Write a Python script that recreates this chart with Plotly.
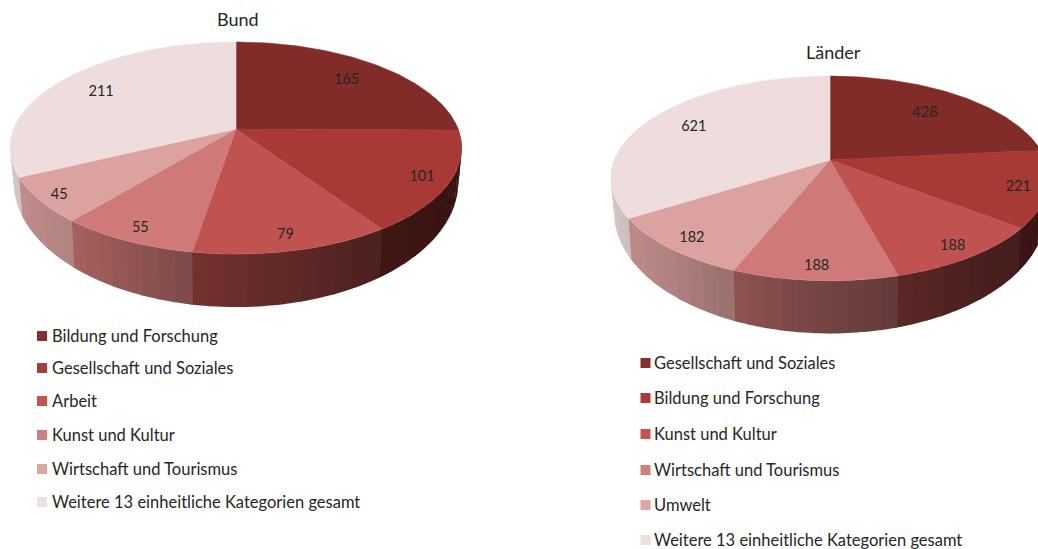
import numpy as np
import plotly.graph_objects as go

# ---- data ----
bund_title = "Bund"
bund_categories = ["Bildung und Forschung", "Gesellschaft und Soziales", "Arbeit",
                   "Kunst und Kultur", "Wirtschaft und Tourismus",
                   "Weitere 13 einheitliche Kategorien gesamt"]
bund_values = [165, 101, 79, 55, 45, 211]

laender_title = "Länder"
laender_categories = ["Gesellschaft und Soziales", "Bildung und Forschung", "Kunst und Kultur",
                      "Wirtschaft und Tourismus", "Umwelt",
                      "Weitere 13 einheitliche Kategorien gesamt"]
laender_values = [428, 221, 188, 188, 182, 621]

slice_colors = ["#812c28", "#a83a36", "#c05350", "#cf7a78", "#dca2a0", "#efdddd"]
legend_colors = ["#852f2d", "#a93c3a", "#c25552", "#d07f7d", "#dfa5a3", "#f0dfdf"]

TEXT = "#262626"
FONT = "Lato"
W, H = 1038, 549

# wall shading against horizontal position on the disc
SHADE_U = [-1.0, -0.64, -0.16, 0.56, 1.0]
SHADE_K = [0.90, 0.80, 0.60, 0.385, 0.32]

K = 0.18  # perspective strength
LABEL_DY = 2


def rgb(hexcol, f=1.0):
    r, g, b = (int(hexcol[i:i + 2], 16) for i in (1, 3, 5))
    return f"rgb({r * f:.0f},{g * f:.0f},{b * f:.0f})"


def project(cx, cy, a, b, drop, scale, u, v):
    """Disc coordinates to screen coordinates, in perspective."""
    d = 1 - K * v
    return cx + scale * a * u / d, cy + drop + b * v / d


def add_pie(fig, values, cx, cy, a, b, wall_b, wall_drop, title, title_xy, label_r, categories,
            legend_x, legend_ys, legend_gap):
    vals = np.array(values, float)
    edges = np.concatenate([[0], np.cumsum(vals)]) / vals.sum() * 2 * np.pi

    # walls, as narrow strips so that the shading runs across them
    for i in range(len(vals)):
        n = max(1, int(np.ceil((edges[i + 1] - edges[i]) / np.radians(4))))
        t = np.linspace(edges[i], edges[i + 1], n + 1)
        for j in range(n):
            th = np.linspace(t[j], t[j + 1] + np.radians(0.4), 4)
            u, v = np.sin(th), -np.cos(th)
            if v.mean() < -0.3:
                continue
            xt, yt = project(cx, cy, a, b, 0, 1, u, v)
            xb, yb = project(cx, cy, a, wall_b, wall_drop, 0.985, u, v)
            col = rgb(slice_colors[i], float(np.interp(u.mean(), SHADE_U, SHADE_K)))
            fig.add_trace(go.Scatter(
                x=np.concatenate([xt, xb[::-1], xt[:1]]),
                y=np.concatenate([yt, yb[::-1], yt[:1]]),
                mode="none", fill="toself", fillcolor=col,
                hoverinfo="skip", showlegend=False))

    # top face
    for i in range(len(vals)):
        th = np.linspace(edges[i], edges[i + 1], 90)
        x, y = project(cx, cy, a, b, 0, 1, np.sin(th), -np.cos(th))
        fig.add_trace(go.Scatter(
            x=np.concatenate([[cx], x, [cx]]), y=np.concatenate([[cy], y, [cy]]),
            mode="lines", fill="toself", fillcolor=slice_colors[i],
            line=dict(color=slice_colors[i], width=0.6),
            name=categories[i], text=f"{categories[i]}: {values[i]}", hoverinfo="text",
            showlegend=False))

    # value labels
    mids = (edges[:-1] + edges[1:]) / 2
    r = np.array(label_r)
    lx, ly = project(cx, cy, a, b, LABEL_DY, 1, r * np.sin(mids), -r * np.cos(mids))
    fig.add_trace(go.Scatter(
        x=lx, y=ly, mode="text", text=[str(v) for v in values],
        textposition="middle center", cliponaxis=True,
        textfont=dict(family=FONT, size=14.5, color=TEXT),
        hoverinfo="skip", showlegend=False))

    # title
    fig.add_annotation(x=title_xy[0], y=title_xy[1], xref="x", yref="y", text=title,
                       showarrow=False, font=dict(family=FONT, size=18, color=TEXT))

    # legend
    for i, cat in enumerate(categories):
        fig.add_trace(go.Scatter(
            x=[legend_x], y=[legend_ys[i]], mode="markers",
            marker=dict(symbol="square", size=10, color=legend_colors[i]),
            name=cat, hoverinfo="name", showlegend=False))
        fig.add_trace(go.Scatter(
            x=[legend_x + legend_gap], y=[legend_ys[i] + 1.5], mode="text",
            text=[cat], textposition="middle right",
            textfont=dict(family=FONT, size=16.5, color=TEXT),
            hoverinfo="skip", showlegend=False))


fig = go.Figure()
add_pie(fig, bund_values, 236, 129, 222, 102.6, 121, 30.5, bund_title, (238, 19),
        [0.77, 0.88, 0.88, 0.89, 0.91, 0.77], bund_categories,
        42, [336, 368, 401, 435, 469, 502], 10)
add_pie(fig, laender_values, 830, 160, 215.5, 99, 116.8, 31, laender_title, (833, 52),
        [0.72, 0.87, 0.89, 0.89, 0.88, 0.77], laender_categories,
        645.5, [363, 398, 434, 470, 505, 540], 8.5)

fig.update_layout(
    width=W, height=H, margin=dict(l=0, r=0, t=0, b=0),
    paper_bgcolor="white", plot_bgcolor="white", showlegend=False,
    xaxis=dict(range=[0, W], visible=False, fixedrange=True),
    yaxis=dict(range=[H, 0], visible=False, fixedrange=True),
)
fig.write_html("out.html", config={"displayModeBar": False},
               post_script="document.body.style.margin='0';document.documentElement.style.overflow='hidden';")
